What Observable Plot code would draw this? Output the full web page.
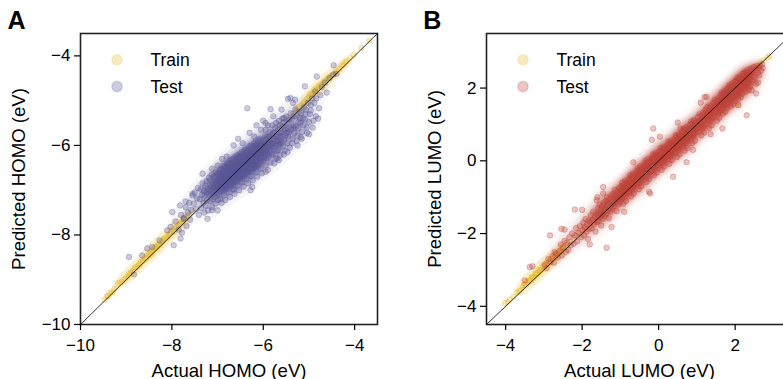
<!DOCTYPE html>
<html><head><meta charset="utf-8">
<script src="https://cdn.jsdelivr.net/npm/d3@7"></script>
<script src="https://cdn.jsdelivr.net/npm/@observablehq/plot@0.6"></script>
<style>
html,body{margin:0;padding:0;overflow:hidden;background:#fff;width:783px;height:379px}
#wrap{position:relative;width:783px;height:379px;overflow:hidden}
.panel{position:absolute;top:0;height:379px}
.panel svg{max-width:none !important}
</style></head><body>
<div id="wrap"><div id="pa" class="panel" style="left:0px;width:390px"></div><div id="pb" class="panel" style="left:406.3px;width:399px"></div></div>
<script>
// ---- Panel A: HOMO (actual, predicted) in eV ----
const homoDomain = [-10, -3.5];
const homoTicks = [-10, -8, -6, -4];
const homoTrain = [
[-9.47,-9.45],[-9.42,-9.38],[-9.35,-9.30],[-9.30,-9.28],[-9.18,-9.08],[-9.10,-9.05],[-9.02,-8.98],[-8.95,-8.92],[-8.90,-8.85],[-8.85,-8.80],[-8.80,-8.72],[-8.72,-8.68],[-8.68,-8.60],[-8.62,-8.55],[-8.58,-8.50],[-8.52,-8.46],[-8.48,-8.40],[-8.42,-8.35],[-8.38,-8.30],[-8.32,-8.26],[-8.28,-8.20],[-8.22,-8.15],[-8.18,-8.10],[-8.12,-8.05],[-8.08,-8.00],[-8.02,-7.95],[-7.98,-7.90],[-7.92,-7.86],[-7.88,-7.80],[-7.82,-7.75],[-7.76,-7.70],[-7.70,-7.62],[-7.62,-7.55],[-7.55,-7.48],
[-8.46,-8.44],[-8.36,-8.28],[-8.25,-8.22],[-8.15,-8.08],[-8.05,-7.98],[-7.95,-7.92],[-7.85,-7.78],[-7.79,-7.74],
[-9.40,-9.36],[-9.25,-9.20],[-9.14,-9.06],[-9.06,-9.00],[-8.98,-8.93],[-8.93,-8.86],[-8.87,-8.82],[-8.82,-8.76],[-8.76,-8.70],[-8.70,-8.64],[-8.64,-8.58],[-8.56,-8.52],[-8.50,-8.42],[-8.44,-8.38],[-8.40,-8.32],[-8.34,-8.29],[-8.30,-8.22],[-8.20,-8.14],[-8.10,-8.06],[-8.00,-7.94],[-7.90,-7.84],[-7.80,-7.72],[-7.72,-7.66],[-7.66,-7.58],
[-7.30,-7.25],[-7.00,-6.95],[-6.80,-6.75],[-6.50,-6.46],[-6.20,-6.16],[-5.90,-5.86],[-5.60,-5.56],[-5.45,-5.40],
[-5.35,-5.30],[-5.28,-5.22],[-5.22,-5.15],[-5.15,-5.10],[-5.10,-5.02],[-5.05,-4.98],[-5.00,-4.92],[-4.95,-4.88],[-4.90,-4.82],[-4.85,-4.78],[-4.80,-4.72],[-4.75,-4.68],[-4.70,-4.64],[-4.65,-4.58],[-4.60,-4.52],[-4.55,-4.48],[-4.50,-4.44],[-4.45,-4.40],[-4.40,-4.35],[-4.32,-4.28],[-4.25,-4.20],[-4.18,-4.12],[-4.10,-4.05],[-4.02,-3.98],[-3.85,-3.82],[-3.68,-3.66],
[-4.98,-4.85],[-4.88,-4.76],[-4.78,-4.66],[-4.68,-4.58],[-4.58,-4.48],
[-5.25,-5.18],[-5.12,-5.05],[-5.02,-4.95],[-4.92,-4.86],[-4.82,-4.75],[-4.72,-4.66],[-4.62,-4.55],[-4.52,-4.46],[-4.42,-4.37],[-4.35,-4.30],[-4.28,-4.22],[-4.20,-4.15]
];
const homoTest = [
[-8.94,-8.49],[-8.65,-8.46],[-8.54,-8.30],[-8.43,-8.27],[-8.27,-8.12],[-8.83,-8.88],[-7.96,-8.23],[-7.81,-8.08],[-7.99,-7.49],[-7.82,-7.34],[-8.03,-7.82],[-8.10,-7.90],[-7.74,-7.64],[-7.70,-7.25],[-7.55,-7.08],[-7.33,-6.63],[-7.12,-6.52],[-7.00,-7.45],[-7.12,-7.45],[-7.22,-7.64],[-6.28,-7.00],[-6.64,-6.99],[-6.24,-6.93],[-5.95,-6.59],[-5.69,-6.29],[-5.66,-6.33],[-5.25,-6.00],[-5.18,-5.81],[-5.00,-5.75],[-4.85,-5.35],
[-6.35,-5.17],[-5.84,-5.19],[-5.46,-4.96],[-5.41,-4.94],[-5.09,-4.68],[-5.30,-4.98],[-5.55,-5.39],[-5.95,-5.50],[-5.95,-5.65],[-6.65,-6.00],[-6.55,-5.85],[-6.30,-5.72],[-6.15,-5.55],[-6.00,-5.45],[-5.78,-5.35],[-5.60,-5.20],[-5.35,-5.05],
[-6.45,-5.95],[-6.20,-5.80],[-6.05,-5.65],[-5.90,-5.55],[-6.80,-6.25],[-7.00,-6.45],[-6.90,-6.30],
[-5.80,-5.55],[-5.76,-6.40],[-5.72,-5.50],[-5.70,-6.12],[-5.66,-5.45],[-5.63,-5.98],[-5.58,-5.40],[-5.55,-6.20],[-5.52,-5.78],[-5.50,-5.35],[-5.47,-6.15],[-5.44,-5.70],[-5.40,-5.28],[-5.37,-5.95],[-5.33,-5.60],[-5.30,-5.20],[-5.27,-5.90],[-5.24,-5.62],[-5.20,-5.38],[-5.16,-5.85],[-5.12,-5.55],[-5.08,-5.30],[-5.04,-5.72],[-5.00,-5.48],[-4.96,-5.22],[-4.92,-5.60],[-4.88,-5.05],[-4.84,-4.95],[-4.80,-5.40],[-4.75,-4.88],
[-7.92,-7.70],[-7.85,-7.88],[-7.80,-7.55],[-7.78,-7.95],[-7.74,-7.62],[-7.70,-7.38],[-7.68,-7.80],[-7.65,-7.50],[-7.62,-7.28],[-7.60,-7.66],[-7.58,-7.44],[-7.55,-7.12],
[-7.52,-7.30],[-7.50,-7.05],[-7.47,-7.42],[-7.45,-7.18],[-7.43,-6.95],[-7.41,-7.55],
[-7.39,-7.20],[-7.37,-6.98],[-7.36,-7.40],[-7.34,-7.10],[-7.33,-6.85],[-7.31,-7.28],[-7.30,-7.02],[-7.29,-7.50],
[-7.28,-7.12],[-7.27,-6.90],[-7.26,-7.35],[-7.25,-7.05],[-7.24,-6.80],[-7.23,-7.22],[-7.22,-6.97],[-7.21,-7.45],[-7.20,-7.08],[-7.19,-6.72],
[-7.18,-7.00],[-7.17,-6.78],[-7.16,-7.25],[-7.15,-6.92],[-7.14,-7.10],[-7.13,-6.65],[-7.12,-7.38],[-7.12,-6.85],[-7.11,-7.05],[-7.10,-6.95],[-7.10,-7.20],[-7.09,-6.70],
[-7.08,-6.92],[-7.07,-6.70],[-7.06,-7.15],[-7.06,-6.85],[-7.05,-7.02],[-7.04,-6.60],[-7.04,-7.30],[-7.03,-6.78],[-7.02,-6.98],[-7.02,-6.88],[-7.01,-7.10],[-7.00,-6.62],[-7.00,-6.95],[-6.99,-7.22],
[-6.98,-6.85],[-6.97,-6.62],[-6.97,-7.08],[-6.96,-6.75],[-6.95,-6.92],[-6.95,-6.55],[-6.94,-7.20],[-6.94,-6.70],[-6.93,-6.88],[-6.93,-6.80],[-6.92,-7.02],[-6.92,-6.52],[-6.91,-6.95],[-6.91,-7.28],[-6.90,-6.66],[-6.90,-6.84],
[-6.89,-6.78],[-6.89,-6.55],[-6.88,-7.00],[-6.88,-6.68],[-6.87,-6.85],[-6.87,-6.45],[-6.86,-7.12],[-6.86,-6.62],[-6.85,-6.80],[-6.85,-6.72],[-6.84,-6.95],[-6.84,-6.48],[-6.83,-6.88],[-6.83,-7.22],[-6.82,-6.60],[-6.82,-6.76],[-6.81,-6.98],[-6.80,-6.40],
[-6.79,-6.70],[-6.79,-6.48],[-6.78,-6.92],[-6.78,-6.60],[-6.77,-6.78],[-6.77,-6.38],[-6.76,-7.05],[-6.76,-6.55],[-6.75,-6.72],[-6.75,-6.64],[-6.74,-6.88],[-6.74,-6.42],[-6.73,-6.80],[-6.73,-7.15],[-6.72,-6.52],[-6.72,-6.68],[-6.71,-6.90],[-6.71,-6.32],[-6.70,-6.75],[-6.70,-6.58],
[-6.69,-6.62],[-6.69,-6.40],[-6.68,-6.85],[-6.68,-6.52],[-6.67,-6.70],[-6.67,-6.30],[-6.66,-6.98],[-6.66,-6.48],[-6.65,-6.65],[-6.65,-6.58],[-6.64,-6.80],[-6.64,-6.35],[-6.63,-6.72],[-6.63,-7.08],[-6.62,-6.45],[-6.62,-6.60],[-6.61,-6.82],[-6.61,-6.25],[-6.60,-6.68],[-6.60,-6.50],
[-6.59,-6.55],[-6.59,-6.32],[-6.58,-6.78],[-6.58,-6.45],[-6.57,-6.62],[-6.57,-6.22],[-6.56,-6.90],[-6.56,-6.40],[-6.55,-6.58],[-6.55,-6.50],[-6.54,-6.72],[-6.54,-6.28],[-6.53,-6.65],[-6.53,-7.00],[-6.52,-6.38],[-6.52,-6.52],[-6.51,-6.75],[-6.51,-6.18],[-6.50,-6.60],[-6.50,-6.42],
[-6.49,-6.48],[-6.49,-6.25],[-6.48,-6.70],[-6.48,-6.38],[-6.47,-6.55],[-6.47,-6.15],[-6.46,-6.82],[-6.46,-6.32],[-6.45,-6.50],[-6.45,-6.42],[-6.44,-6.65],[-6.44,-6.20],[-6.43,-6.58],[-6.43,-6.92],[-6.42,-6.30],[-6.42,-6.45],[-6.41,-6.68],[-6.41,-6.10],[-6.40,-6.52],[-6.40,-6.35],
[-6.39,-6.40],[-6.39,-6.18],[-6.38,-6.62],[-6.38,-6.30],[-6.37,-6.48],[-6.37,-6.08],[-6.36,-6.75],[-6.36,-6.25],[-6.35,-6.42],[-6.35,-6.35],[-6.34,-6.58],[-6.34,-6.12],[-6.33,-6.50],[-6.33,-6.85],[-6.32,-6.22],[-6.32,-6.38],[-6.31,-6.60],[-6.31,-6.02],[-6.30,-6.45],[-6.30,-6.28],
[-6.29,-6.32],[-6.29,-6.10],[-6.28,-6.55],[-6.28,-6.22],[-6.27,-6.40],[-6.27,-6.00],[-6.26,-6.68],[-6.26,-6.18],[-6.25,-6.35],[-6.25,-6.28],[-6.24,-6.50],[-6.24,-6.05],[-6.23,-6.42],[-6.23,-6.78],[-6.22,-6.15],[-6.22,-6.30],[-6.21,-6.52],[-6.21,-5.95],
[-6.19,-6.25],[-6.19,-6.02],[-6.18,-6.48],[-6.18,-6.15],[-6.17,-6.32],[-6.17,-5.92],[-6.16,-6.60],[-6.16,-6.10],[-6.15,-6.28],[-6.15,-6.20],[-6.14,-6.42],[-6.14,-5.98],[-6.13,-6.35],[-6.13,-6.70],[-6.12,-6.08],[-6.12,-6.22],[-6.11,-6.45],[-6.11,-5.88],
[-6.09,-6.18],[-6.09,-5.95],[-6.08,-6.40],[-6.08,-6.08],[-6.07,-6.25],[-6.07,-5.85],[-6.06,-6.52],[-6.06,-6.02],[-6.05,-6.20],[-6.05,-6.12],[-6.04,-6.35],[-6.04,-5.90],[-6.03,-6.28],[-6.03,-6.62],[-6.02,-6.00],[-6.01,-6.15],
[-5.99,-6.10],[-5.99,-5.88],[-5.98,-6.32],[-5.97,-6.00],[-5.97,-6.18],[-5.96,-5.78],[-5.95,-6.45],[-5.95,-5.95],[-5.94,-6.12],[-5.93,-6.05],[-5.93,-6.28],[-5.92,-5.82],[-5.91,-6.20],[-5.90,-6.55],
[-5.89,-6.02],[-5.88,-5.80],[-5.88,-6.25],[-5.87,-5.92],[-5.86,-6.10],[-5.85,-5.70],[-5.84,-6.38],[-5.84,-5.88],[-5.83,-6.05],[-5.82,-5.98],[-5.81,-6.20],[-5.80,-5.75],
[-5.79,-5.95],[-5.78,-5.72],[-5.77,-6.18],[-5.76,-5.85],[-5.75,-6.02],[-5.74,-5.62],[-5.73,-6.30],[-5.72,-5.80],[-5.71,-5.98],[-5.70,-5.90],
[-5.69,-5.88],[-5.68,-5.65],[-5.67,-6.10],[-5.66,-5.78],[-5.65,-5.95],[-5.64,-5.55],[-5.63,-6.22],[-5.62,-5.72],[-5.61,-5.92],
[-5.59,-5.80],[-5.58,-5.58],[-5.57,-6.02],[-5.56,-5.70],[-5.55,-5.88],[-5.54,-5.48],[-5.53,-6.12],[-5.52,-5.65],
[-5.49,-5.72],[-5.48,-5.50],[-5.47,-5.95],[-5.46,-5.62],[-5.45,-5.80],[-5.43,-5.42],[-5.42,-6.05],
[-5.39,-5.65],[-5.38,-5.42],[-5.36,-5.85],[-5.35,-5.55],[-5.33,-5.35],[-5.32,-5.72],
[-5.29,-5.58],[-5.27,-5.35],[-5.25,-5.78],[-5.23,-5.48],[-5.21,-5.25],
[-5.19,-5.50],[-5.17,-5.28],[-5.15,-5.70],[-5.13,-5.40],[-5.11,-5.15],
[-5.09,-5.42],[-5.07,-5.20],[-5.05,-5.60],[-5.02,-5.05],
[-4.98,-5.30],[-4.96,-5.10],[-4.93,-4.95],[-4.90,-5.45],
[-4.86,-4.80],[-4.83,-4.46],[-4.78,-5.17],[-4.72,-4.70],[-4.65,-4.60],[-4.61,-4.82],[-4.55,-4.50],[-4.46,-4.21],[-4.47,-4.42],[-4.40,-4.40]
];

// ---- Panel B: LUMO (actual, predicted) in eV ----
const lumoDomain = [-4.5, 3.5];
const lumoTicks = [-4, -2, 0, 2];
const lumoTrain = [
[-4.02,-3.92],[-3.95,-3.88],[-3.60,-3.55],[-3.55,-3.48],[-3.50,-3.42],[-3.45,-3.38],[-3.40,-3.32],[-3.35,-3.28],[-3.30,-3.22],[-3.25,-3.18],[-3.20,-3.12],[-3.15,-3.08],[-3.10,-3.02],[-3.05,-2.98],[-3.00,-2.92],[-2.95,-2.86],[-2.90,-2.82],[-2.85,-2.76],[-2.80,-2.72],[-2.75,-2.66],[-2.70,-2.62],[-2.65,-2.56],[-2.60,-2.52],[-2.57,-2.46],[-2.55,-2.46],[-2.50,-2.42],[-2.45,-2.36],[-2.40,-2.32],[-2.30,-2.22],[-2.20,-2.12],[-2.05,-1.98],[-1.90,-1.84],[-1.74,-1.64],[-1.65,-1.68],
[-3.52,-3.40],[-3.42,-3.30],[-3.32,-3.20],[-3.22,-3.10],[-3.12,-3.00],[-3.02,-2.90],[-2.92,-2.80],[-2.82,-2.70],
[-3.90,-3.82],[-3.80,-3.74],[-3.70,-3.62],[-3.65,-3.58],[-3.48,-3.40],[-3.38,-3.30],[-3.28,-3.21],[-3.18,-3.10],[-3.08,-3.00],[-2.98,-2.90],[-2.88,-2.80],[-2.78,-2.70],[-2.68,-2.60],[-2.58,-2.50],[-2.48,-2.40],
[-1.20,-1.15],[-0.50,-0.45],[0.50,0.55],[1.22,1.39],[2.09,1.54],
[2.55,2.62],[2.60,2.58],[2.65,2.70],[2.75,2.76],[2.85,2.84],[2.90,2.88]
];
const lumoTest = [
[-2.19,-1.34],[-2.84,-2.05],[-2.54,-1.87],[-2.46,-1.89],[-3.37,-2.92],[-3.30,-2.90],[-3.50,-3.29],[-1.36,-2.39],[-1.23,-1.82],[-0.66,-0.04],[-0.14,0.89],[0.03,0.66],[0.57,0.89],[0.73,-0.04],[0.38,-0.44],[-0.22,-0.90],[-0.25,-0.85],[1.36,0.73],[1.67,0.89],[1.25,1.76],[1.20,1.75],[2.30,1.25],[2.08,1.53],[2.43,1.94],[-0.18,0.58],[-1.60,-1.00],[-1.45,-0.90],[-2.72,-2.51],[-2.00,-1.35],[0.90,0.30],[1.10,1.60],[-1.80,-2.30],[-0.90,-1.40],[0.50,1.05],[2.55,1.85],[2.60,2.15],[-1.62,-1.08],[-1.45,-0.72],
[-2.98,-2.85],[-2.93,-2.95],[-2.88,-2.70],[-2.83,-2.78],
[-2.78,-2.62],[-2.74,-2.80],[-2.69,-2.55],[-2.64,-2.66],
[-2.59,-2.48],[-2.56,-2.30],[-2.53,-2.60],[-2.50,-2.38],[-2.46,-2.20],[-2.42,-2.50],
[-2.39,-2.25],[-2.36,-2.45],[-2.33,-2.10],[-2.30,-2.32],[-2.26,-2.00],[-2.22,-2.28],
[-2.19,-2.05],[-2.16,-1.85],[-2.13,-2.22],[-2.10,-1.98],[-2.06,-1.80],[-2.02,-2.10],
[-1.99,-1.90],[-1.97,-1.70],[-1.95,-2.05],[-1.93,-1.82],[-1.91,-1.60],[-1.89,-1.95],[-1.87,-1.75],[-1.85,-2.15],[-1.83,-1.65],[-1.81,-1.88],
[-1.79,-1.70],[-1.77,-1.50],[-1.75,-1.85],[-1.73,-1.62],[-1.71,-1.40],[-1.69,-1.75],[-1.67,-1.55],[-1.65,-1.95],[-1.63,-1.45],[-1.61,-1.68],
[-1.59,-1.50],[-1.58,-1.30],[-1.57,-1.65],[-1.55,-1.42],[-1.54,-1.20],[-1.53,-1.55],[-1.51,-1.35],[-1.50,-1.78],[-1.48,-1.25],[-1.47,-1.48],[-1.46,-1.60],[-1.44,-1.15],[-1.43,-1.40],[-1.41,-1.52],
[-1.39,-1.30],[-1.38,-1.10],[-1.37,-1.45],[-1.35,-1.22],[-1.34,-1.00],[-1.33,-1.35],[-1.31,-1.15],[-1.30,-1.58],[-1.28,-1.05],[-1.27,-1.28],[-1.26,-1.40],[-1.24,-0.95],[-1.23,-1.20],[-1.21,-1.32],
[-1.19,-1.10],[-1.18,-0.90],[-1.17,-1.25],[-1.15,-1.02],[-1.14,-0.80],[-1.13,-1.15],[-1.11,-0.95],[-1.10,-1.38],[-1.08,-0.85],[-1.07,-1.08],[-1.06,-1.20],[-1.04,-0.75],[-1.03,-1.00],[-1.01,-1.12],
[-0.99,-0.92],[-0.98,-0.70],[-0.97,-1.05],[-0.96,-0.82],[-0.95,-0.60],[-0.94,-0.95],[-0.93,-0.75],[-0.92,-1.18],[-0.91,-0.65],[-0.90,-0.88],[-0.89,-1.00],[-0.88,-0.55],[-0.87,-0.80],[-0.86,-0.92],[-0.85,-1.10],[-0.84,-0.62],[-0.83,-0.85],[-0.81,-0.72],
[-0.79,-0.72],[-0.78,-0.50],[-0.77,-0.85],[-0.76,-0.62],[-0.75,-0.40],[-0.74,-0.75],[-0.73,-0.55],[-0.72,-0.98],[-0.71,-0.45],[-0.70,-0.68],[-0.69,-0.80],[-0.68,-0.35],[-0.67,-0.60],[-0.66,-0.72],[-0.65,-0.90],[-0.64,-0.42],[-0.63,-0.65],[-0.61,-0.52],
[-0.59,-0.52],[-0.58,-0.30],[-0.57,-0.65],[-0.56,-0.42],[-0.55,-0.20],[-0.54,-0.55],[-0.53,-0.35],[-0.52,-0.78],[-0.51,-0.25],[-0.50,-0.48],[-0.49,-0.60],[-0.48,-0.15],[-0.47,-0.40],[-0.46,-0.52],[-0.45,-0.70],[-0.44,-0.22],[-0.43,-0.45],[-0.41,-0.32],
[-0.39,-0.32],[-0.38,-0.10],[-0.37,-0.45],[-0.36,-0.22],[-0.35,0.00],[-0.34,-0.35],[-0.33,-0.15],[-0.32,-0.58],[-0.31,-0.05],[-0.30,-0.28],[-0.29,-0.40],[-0.28,0.05],[-0.27,-0.20],[-0.26,-0.32],[-0.25,-0.50],[-0.24,-0.02],[-0.23,-0.25],[-0.21,-0.12],
[-0.19,-0.14],[-0.18,0.08],[-0.17,-0.27],[-0.16,-0.04],[-0.15,0.18],[-0.14,-0.17],[-0.13,0.03],[-0.12,-0.40],[-0.11,0.13],[-0.10,-0.10],[-0.09,-0.22],[-0.08,0.22],[-0.07,-0.02],[-0.06,-0.14],[-0.05,-0.32],[-0.04,0.16],[-0.03,-0.07],[-0.01,0.06],
[0.01,0.04],[0.02,0.25],[0.03,-0.12],[0.04,0.12],[0.05,0.35],[0.06,0.00],[0.07,0.20],[0.08,-0.25],[0.09,0.30],[0.10,0.08],[0.11,-0.05],[0.12,0.38],[0.13,0.15],[0.14,0.02],[0.15,-0.15],[0.16,0.32],[0.17,0.10],[0.19,0.22],
[0.21,0.22],[0.22,0.42],[0.23,0.05],[0.24,0.30],[0.25,0.52],[0.26,0.18],[0.27,0.38],[0.28,-0.08],[0.29,0.48],[0.30,0.25],[0.31,0.12],[0.32,0.55],[0.33,0.32],[0.34,0.20],[0.35,0.02],[0.36,0.48],[0.37,0.28],[0.39,0.40],
[0.41,0.40],[0.42,0.60],[0.43,0.22],[0.44,0.48],[0.45,0.70],[0.46,0.35],[0.47,0.55],[0.48,0.10],[0.49,0.65],[0.50,0.42],[0.51,0.30],[0.52,0.72],[0.53,0.50],[0.54,0.38],[0.55,0.18],[0.56,0.65],[0.57,0.45],[0.59,0.58],
[0.61,0.58],[0.62,0.80],[0.63,0.40],[0.64,0.68],[0.65,0.88],[0.66,0.52],[0.67,0.72],[0.68,0.28],[0.69,0.85],[0.70,0.62],[0.71,0.48],[0.72,0.92],[0.73,0.70],[0.74,0.55],[0.75,0.35],[0.76,0.85],[0.77,0.65],[0.79,0.78],
[0.81,0.78],[0.82,1.00],[0.83,0.60],[0.84,0.88],[0.85,1.08],[0.86,0.72],[0.87,0.92],[0.88,0.48],[0.89,1.05],[0.90,0.82],[0.91,0.68],[0.92,1.12],[0.93,0.90],[0.94,0.75],[0.95,0.55],[0.96,1.05],[0.97,0.85],[0.99,0.98],
[1.01,0.98],[1.03,1.20],[1.04,0.80],[1.06,1.08],[1.07,1.28],[1.09,0.92],[1.10,1.12],[1.12,0.70],[1.13,1.25],[1.14,1.02],[1.15,0.88],[1.16,1.32],[1.17,1.10],[1.18,0.95],[1.19,0.78],[1.19,1.20],
[1.21,1.18],[1.23,1.40],[1.24,1.00],[1.26,1.28],[1.27,1.48],[1.29,1.12],[1.30,1.32],[1.32,0.90],[1.33,1.45],[1.34,1.22],[1.35,1.08],[1.36,1.52],[1.37,1.30],[1.38,1.15],[1.39,0.98],[1.39,1.40],
[1.41,1.38],[1.43,1.60],[1.44,1.20],[1.46,1.48],[1.47,1.68],[1.49,1.32],[1.50,1.52],[1.52,1.10],[1.53,1.65],[1.54,1.42],[1.55,1.28],[1.56,1.72],[1.57,1.50],[1.58,1.35],[1.59,1.18],[1.59,1.60],
[1.61,1.58],[1.62,1.80],[1.63,1.40],[1.64,1.68],[1.65,1.88],[1.66,1.52],[1.67,1.72],[1.68,1.30],[1.69,1.85],[1.70,1.62],[1.71,1.48],[1.72,1.92],[1.73,1.70],[1.74,1.55],[1.75,1.35],[1.76,1.85],[1.77,1.65],[1.78,1.78],[1.79,1.45],[1.79,1.98],
[1.81,1.78],[1.82,2.00],[1.83,1.60],[1.84,1.88],[1.85,2.08],[1.86,1.72],[1.87,1.92],[1.88,1.50],[1.89,2.05],[1.90,1.82],[1.91,1.68],[1.92,2.12],[1.93,1.90],[1.94,1.75],[1.95,1.55],[1.96,2.05],[1.97,1.85],[1.98,1.98],[1.99,1.65],[1.99,2.18],
[2.01,1.98],[2.02,2.20],[2.03,1.80],[2.04,2.08],[2.05,2.28],[2.06,1.92],[2.07,2.12],[2.08,1.70],[2.09,2.25],[2.10,2.02],[2.11,1.88],[2.12,2.32],[2.13,2.10],[2.14,1.95],[2.15,1.75],[2.16,2.25],[2.17,2.05],[2.18,2.18],[2.19,1.85],[2.19,2.38],
[2.21,2.18],[2.22,2.40],[2.23,2.00],[2.24,2.28],[2.25,2.45],[2.26,2.12],[2.27,2.32],[2.28,1.90],[2.29,2.42],[2.30,2.22],[2.31,2.08],[2.32,2.50],[2.33,2.30],[2.34,2.15],[2.35,1.95],[2.36,2.42],[2.37,2.25],[2.38,2.38],[2.39,2.05],[2.39,2.52],
[2.41,2.38],[2.43,2.55],[2.45,2.20],[2.47,2.45],[2.49,2.58],[2.51,2.30],[2.53,2.50],[2.55,2.12],[2.57,2.60],[2.59,2.42],[2.61,2.55],[2.63,2.35],
[2.65,2.62],[2.68,2.48],[2.70,2.65],[2.72,2.55]
];

const legendLabels = ["Train", "Test"];
const GOLD = "#E8BE32", PURPLE = "#5A5696", RED = "#BC4338";
const PURPLE_RGB = "90,86,150", RED_RGB = "188,67,56";
const FONT = "'Liberation Sans', Arial, Helvetica, sans-serif";
const fmt = d => (d < 0 ? "\u2212" + Math.abs(d) : String(d));

function panel({train, test, domain, ticks, testColor, testRgb, coreAlpha, xLabel, yLabel, letter, width, innerWidth, yLabelDx, letterDx}) {
  const X = d => d[0], Y = d => d[1];
  const dotStyle = c => ({x: X, y: Y, r: 2.8, fill: c, fillOpacity: 0.3, stroke: c, strokeOpacity: 0.3, strokeWidth: 1, clip: true});
  return Plot.plot({
    width, height: 379,
    marginLeft: 80, marginRight: width - 80 - innerWidth, marginTop: 33, marginBottom: 55,
    x: {domain}, y: {domain},
    color: {type: "linear", interpolate: t => `rgba(${testRgb},${(coreAlpha * t).toFixed(3)})`},
    style: {fontFamily: FONT, fontSize: "17px", color: "black", background: "white", overflow: "visible"},
    marks: [
      Plot.density(train, {x: X, y: Y, fill: GOLD, fillOpacity: 0.22, stroke: "none", bandwidth: 3, thresholds: 3, clip: true}),
      Plot.dot(train, dotStyle(GOLD)),
      Plot.density(test, {x: X, y: Y, fill: "density", stroke: "none", bandwidth: 5, thresholds: 12, clip: true}),
      Plot.dot(test, dotStyle(testColor)),
      Plot.line(domain.map(v => [v, v]), {x: X, y: Y, stroke: "black", strokeWidth: 0.8, clip: true}),
      Plot.frame({stroke: "#222", strokeWidth: 1.6}),
      Plot.axisX(ticks, {tickSize: 6, tickPadding: 8, fontSize: 17, tickFormat: fmt, strokeWidth: 1.2, label: null}),
      Plot.axisY(ticks, {tickSize: 6, tickPadding: 4, fontSize: 17, tickFormat: fmt, strokeWidth: 1.2, label: null}),
      Plot.text([xLabel], {frameAnchor: "bottom", dy: 52, lineAnchor: "bottom", textAnchor: "middle", fontSize: 18.6, text: d => d}),
      Plot.text([yLabel], {frameAnchor: "left", dx: yLabelDx, rotate: -90, lineAnchor: "bottom", textAnchor: "middle", fontSize: 18.6, text: d => d}),
      Plot.text([letter], {frameAnchor: "top-left", dx: letterDx, dy: -5, lineAnchor: "bottom", textAnchor: "start", fontSize: 25, fontWeight: "bold", text: d => d}),
      Plot.dot([legendLabels[0]], {frameAnchor: "top-left", dx: 36.5, dy: 26.3, r: 5.2, fill: GOLD, fillOpacity: 0.3, stroke: GOLD, strokeOpacity: 0.2}),
      Plot.dot([legendLabels[1]], {frameAnchor: "top-left", dx: 36.5, dy: 53, r: 5.2, fill: testColor, fillOpacity: 0.3, stroke: testColor, strokeOpacity: 0.2}),
      Plot.text([legendLabels[0]], {frameAnchor: "top-left", dx: 70, dy: 32, lineAnchor: "bottom", textAnchor: "start", fontSize: 17.5, text: d => d}),
      Plot.text([legendLabels[1]], {frameAnchor: "top-left", dx: 70, dy: 59.7, lineAnchor: "bottom", textAnchor: "start", fontSize: 17.5, text: d => d})
    ]
  });
}

document.getElementById("pa").append(panel({
  train: homoTrain, test: homoTest, domain: homoDomain, ticks: homoTicks, testColor: PURPLE, testRgb: PURPLE_RGB, coreAlpha: 0.58,
  xLabel: "Actual HOMO (eV)", yLabel: "Predicted HOMO (eV)", letter: "A",
  width: 390, innerWidth: 297, yLabelDx: -55.5, letterDx: -73
}));
document.getElementById("pb").append(panel({
  train: lumoTrain, test: lumoTest, domain: lumoDomain, ticks: lumoTicks, testColor: RED, testRgb: RED_RGB, coreAlpha: 0.45,
  xLabel: "Actual LUMO (eV)", yLabel: "Predicted LUMO (eV)", letter: "B",
  width: 399, innerWidth: 306, yLabelDx: -45.3, letterDx: -63.3
}));
</script>
</body></html>
